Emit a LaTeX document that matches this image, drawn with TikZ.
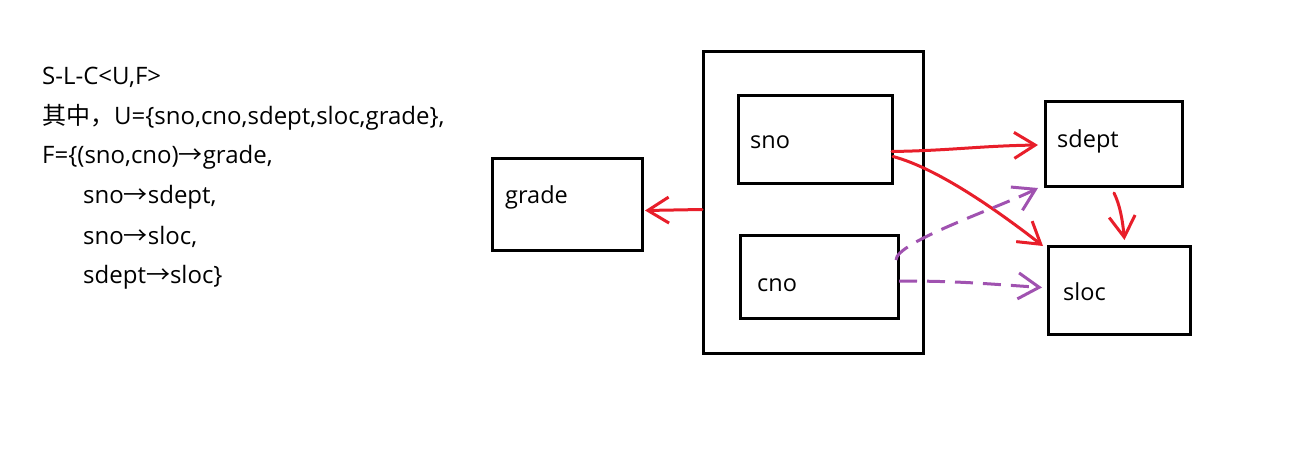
\documentclass[tikz,border=0pt]{standalone}
\usepackage{fontspec}
\setmainfont{Open Sans}
\newfontfamily\cjk{Noto Sans CJK SC}
\usetikzlibrary{arrows.meta}
\definecolor{hred}{RGB}{232,30,42}
\definecolor{hpurple}{RGB}{160,82,176}
\tikzset{
  box/.style={draw=black, line width=3pt, rectangle, inner sep=0pt, anchor=north west},
  lbl/.style={anchor=west, inner sep=0pt, font=\fontsize{23.5}{27}\selectfont},
  txt/.style={anchor=west, inner sep=0pt, font=\fontsize{24}{28}\selectfont},
  redarr/.style={draw=hred, line width=3pt, line cap=round, -{Straight Barb[length=21pt,width=26pt,line width=3pt]}},
  purarr/.style={draw=hpurple, line width=3pt, dash pattern=on 18pt off 10pt, -{Straight Barb[length=21pt,width=26pt,line width=3pt]}},
}
\newcommand{\rar}{{\cjk →}}
\begin{document}
\begin{tikzpicture}[x=1pt,y=-1pt]
\useasboundingbox (0,0) rectangle (1310,458);
% left text
\node[txt] (t1) at (42,77) {S-L-C<U,F>};
\node[txt] (t2) at (42,117) {{\cjk 其中，}U=\{sno,cno,sdept,sloc,grade\},};
\node[txt] (t3) at (42,157) {F=\{(sno,cno)\rar grade,};
\node[txt] (t4) at (83,197) {sno\rar sdept,};
\node[txt] (t5) at (83,237) {sno\rar sloc,};
\node[txt] (t6) at (83,277) {sdept\rar sloc\}};
% boxes
\node[box, minimum width=220pt, minimum height=302pt] (outer) at (702,50) {};
\node[box, minimum width=154pt, minimum height=88pt] (sno) at (737,94) {};
\node[box, minimum width=158pt, minimum height=83pt] (cno) at (739,234) {};
\node[box, minimum width=150pt, minimum height=92pt] (grade) at (491,157) {};
\node[box, minimum width=137pt, minimum height=85pt] (sdept) at (1044,100) {};
\node[box, minimum width=142pt, minimum height=88pt] (sloc) at (1047,245) {};
% labels
\node[lbl] (snol) at (750,142) {sno};
\node[lbl] (cnol) at (757,285) {cno};
\node[lbl] (gradel) at (505,197) {grade};
\node[lbl] (sdeptl) at (1057,141) {sdept};
\node[lbl] (slocl) at (1063,292) {sloc};
% arrows
\draw[redarr] ([yshift=-7pt]outer.west) -- ([xshift=1pt,yshift=-6pt]grade.east);
\draw[redarr] ([xshift=-2pt,yshift=-12pt]sno.east) .. controls +(60,-1) and +(-60,1) .. ([xshift=-6pt,yshift=-1pt]sdept.west);
\draw[redarr] ([xshift=-1pt,yshift=-17pt]sno.east) .. controls +(45,12) and +(-45,-35) .. ([xshift=-4pt,yshift=-1pt]sloc.north west);
\draw[redarr] ([xshift=0pt,yshift=-5pt]sdept.south) .. controls +(6,12) and +(-2,-20) .. ([xshift=5pt,yshift=5pt]sloc.north);
\draw[purarr] ([xshift=-4pt,yshift=17pt]cno.east) .. controls +(0,-18) and +(-40,20) .. ([xshift=-6pt,yshift=0pt]sdept.south west);
\draw[purarr] ([xshift=-1pt,yshift=-4pt]cno.east) .. controls +(60,0) and +(-60,-4) .. ([xshift=-5pt,yshift=3pt]sloc.west);
\end{tikzpicture}
\end{document}
